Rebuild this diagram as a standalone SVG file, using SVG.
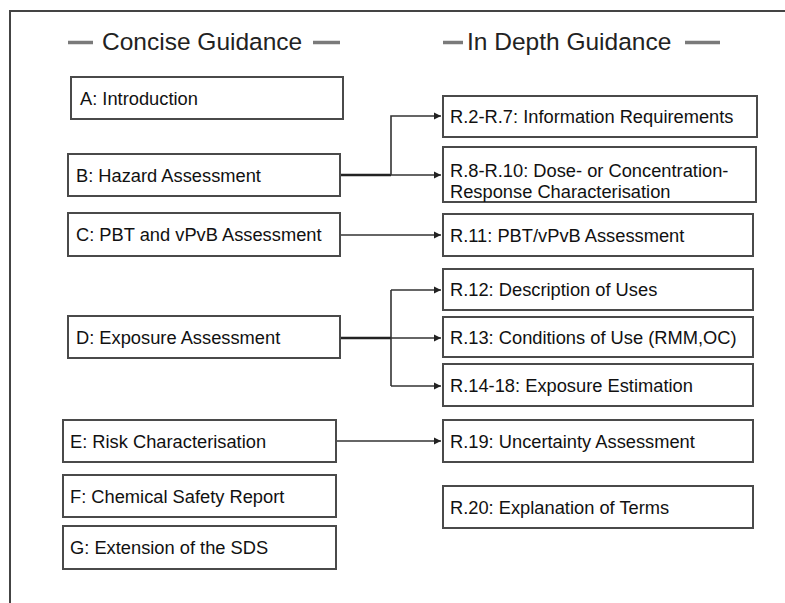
<svg xmlns="http://www.w3.org/2000/svg" width="785" height="603" viewBox="0 0 785 603">
<style>
.box{fill:#fff;stroke:#4a4a4a;stroke-width:2}
.t{font-family:"Liberation Sans",Arial,sans-serif;font-size:18.3px;fill:#111}
.h{font-family:"Liberation Sans",Arial,sans-serif;font-size:24.5px;fill:#222}
.dash{stroke:#7a7a7a;stroke-width:3.5}
.c{fill:none;stroke:#333;stroke-width:1.6}
.ct{fill:none;stroke:#222;stroke-width:2.4}
</style>
<defs>
<marker id="ah" markerWidth="8" markerHeight="8" refX="7" refY="4" orient="auto" markerUnits="userSpaceOnUse">
<path d="M0,0.5 L7,4 L0,7.5 Z" fill="#222"/>
</marker>
</defs>
<rect width="785" height="603" fill="#fff"/>
<g id="frame">
<path d="M10,603 V11 H785" fill="none" stroke="#444" stroke-width="2"/>
</g>
<g id="headers">
<line class="dash" x1="68" y1="42.5" x2="93" y2="42.5"/>
<text class="h" x="102" y="49.5">Concise Guidance</text>
<line class="dash" x1="313" y1="42.5" x2="340" y2="42.5"/>
<line class="dash" x1="443" y1="42.5" x2="463" y2="42.5"/>
<text class="h" x="467" y="49.5">In Depth Guidance</text>
<line class="dash" x1="685" y1="42.5" x2="720" y2="42.5"/>
</g>
<g id="connectors">
<path class="ct" d="M340,175 H391"/>
<path class="c" d="M391,175 V116 H441" marker-end="url(#ah)"/>
<path class="c" d="M391,175 H441" marker-end="url(#ah)"/>
<path class="c" d="M340,235 H441" marker-end="url(#ah)"/>
<path class="ct" d="M340,338 H391"/>
<path class="c" d="M391,290 V386" />
<path class="c" d="M391,290 H441" marker-end="url(#ah)"/>
<path class="c" d="M391,338 H441" marker-end="url(#ah)"/>
<path class="c" d="M391,386 H441" marker-end="url(#ah)"/>
<path class="c" d="M336,441 H441" marker-end="url(#ah)"/>
</g>
<g id="A"><rect class="box" x="71" y="77" width="272" height="42"/><text class="t" x="80" y="104.5">A: Introduction</text></g>
<g id="B"><rect class="box" x="68" y="154" width="272" height="42"/><text class="t" x="76" y="181.5">B: Hazard Assessment</text></g>
<g id="C"><rect class="box" x="68" y="213" width="272" height="43"/><text class="t" x="76" y="241">C: PBT and vPvB Assessment</text></g>
<g id="D"><rect class="box" x="68" y="316" width="272" height="42"/><text class="t" x="76" y="343.5">D: Exposure Assessment</text></g>
<g id="E"><rect class="box" x="63" y="420" width="273" height="42"/><text class="t" x="70" y="447.5">E: Risk Characterisation</text></g>
<g id="F"><rect class="box" x="63" y="475" width="273" height="42"/><text class="t" x="70" y="502.5">F: Chemical Safety Report</text></g>
<g id="G"><rect class="box" x="63" y="526" width="273" height="43"/><text class="t" x="70" y="554">G: Extension of the SDS</text></g>
<g id="R2"><rect class="box" x="443" y="96" width="314" height="41"/><text class="t" x="450" y="123">R.2-R.7: Information Requirements</text></g>
<g id="R8"><rect class="box" x="443" y="147" width="313" height="55"/><text class="t" x="450" y="177">R.8-R.10: Dose- or Concentration-</text><text class="t" x="450" y="197.5">Response Characterisation</text></g>
<g id="R11"><rect class="box" x="443" y="214" width="310" height="42"/><text class="t" x="450" y="241.5">R.11: PBT/vPvB Assessment</text></g>
<g id="R12"><rect class="box" x="443" y="269" width="310" height="41"/><text class="t" x="450" y="296">R.12: Description of Uses</text></g>
<g id="R13"><rect class="box" x="443" y="317" width="310" height="40"/><text class="t" x="450" y="343.5">R.13: Conditions of Use (RMM,OC)</text></g>
<g id="R14"><rect class="box" x="443" y="364" width="310" height="42"/><text class="t" x="450" y="391.5">R.14-18: Exposure Estimation</text></g>
<g id="R19"><rect class="box" x="443" y="420" width="310" height="42"/><text class="t" x="450" y="447.5">R.19: Uncertainty Assessment</text></g>
<g id="R20"><rect class="box" x="443" y="486" width="310" height="42"/><text class="t" x="450" y="513.5">R.20: Explanation of Terms</text></g>
</svg>
